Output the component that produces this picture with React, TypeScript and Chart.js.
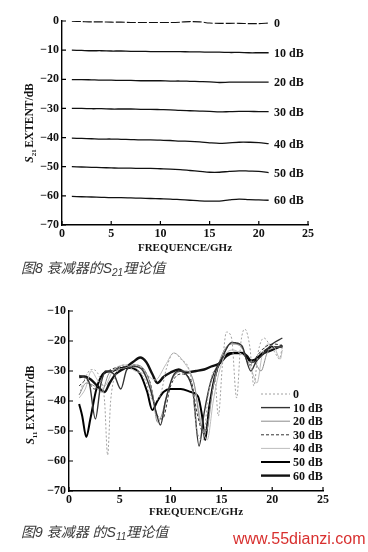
import React, { useEffect, useRef } from 'react';
import { Chart, registerables } from 'chart.js';

Chart.register(...registerables);

// ---------- Fig. 8 : S21 ----------
const s21Freq = [1, 2, 3, 4, 5, 6, 7, 8, 9, 10, 11, 12, 13, 14, 15, 16, 17, 18, 19, 20, 21];
const s21_0 = [-0.1, -0.2, -0.3, -0.3, -0.4, -0.4, -0.5, -0.5, -0.5, -0.5, -0.5, -0.4, -0.2, -0.3, -0.7, -0.8, -0.8, -0.8, -0.9, -0.9, -0.7];
const s21_10 = [-10, -10.1, -10.2, -10.2, -10.3, -10.3, -10.4, -10.4, -10.5, -10.5, -10.5, -10.5, -10.6, -10.6, -10.7, -10.7, -10.8, -10.8, -10.9, -10.9, -10.9];
const s21_20 = [-20.1, -20.1, -20.2, -20.3, -20.3, -20.4, -20.4, -20.5, -20.5, -20.5, -20.6, -20.6, -20.7, -20.8, -20.9, -21.1, -21, -21, -21, -21, -21];
const s21_30 = [-30, -30, -30.1, -30.1, -30.2, -30.2, -30.2, -30.3, -30.3, -30.4, -30.5, -30.7, -30.8, -30.9, -31, -31.2, -31.1, -31, -31, -31.1, -31.1];
const s21_40 = [-40.2, -40.3, -40.4, -40.5, -40.5, -40.6, -40.7, -40.8, -40.8, -40.9, -41, -41.2, -41.3, -41.5, -41.8, -42, -41.8, -41.6, -41.6, -41.7, -42.1];
const s21_50 = [-50, -50.1, -50.2, -50.3, -50.4, -50.5, -50.5, -50.6, -50.6, -50.7, -50.8, -51, -51.3, -51.6, -51.9, -51.9, -51.6, -51.4, -51.5, -51.6, -52];
const s21_60 = [-60.2, -60.3, -60.4, -60.5, -60.6, -60.6, -60.7, -60.8, -60.9, -61, -61.1, -61.3, -61.5, -61.7, -61.8, -61.8, -61.4, -61.1, -61.3, -61.4, -61.5];
const s21Series = [s21_0, s21_10, s21_20, s21_30, s21_40, s21_50, s21_60];
const s21Labels = ['0', '10 dB', '20 dB', '30 dB', '40 dB', '50 dB', '60 dB'];
const s21YMin = -70;
const s21YMax = 0;

// ---------- Fig. 9 : S11 ----------
const s11_0 = [[1, -38], [1.5, -33], [2.2, -29.5], [3, -32], [3.5, -40], [3.8, -58], [4.1, -40], [4.8, -30], [5.5, -28], [6.5, -29], [7.5, -33], [8.3, -40], [9, -38], [9.6, -29], [10.3, -24], [11, -26], [12, -32], [12.6, -50], [13.2, -53], [13.7, -38], [14.3, -30], [14.7, -45], [15.1, -28], [15.5, -17], [16, -19], [16.5, -39], [16.9, -21], [17.3, -16], [17.8, -22], [18.2, -35], [18.6, -24], [19.2, -19], [19.7, -21], [20.3, -24], [20.7, -26], [21, -22]];
const s11_10 = [[1, -31.5], [1.5, -32], [2, -34], [2.6, -46], [3.1, -35], [3.6, -30], [4.4, -31], [5.1, -36], [5.7, -29.5], [6.5, -28.5], [7.3, -30], [8, -36], [8.6, -44], [9, -48], [9.5, -40], [10.2, -32], [10.8, -30], [11.5, -31], [12.2, -37], [12.8, -55], [13.3, -44], [14, -33], [15, -26], [16, -20.5], [17, -21.5], [17.9, -30], [18.4, -27], [19.2, -24], [20, -21], [21, -19]];
const s11_20 = [[1, -38], [1.7, -34], [2.5, -35], [3.2, -37], [3.9, -31], [4.6, -29.5], [5.5, -29], [6.5, -28], [7.5, -30], [8.2, -37], [8.7, -47], [9.1, -45], [9.7, -37], [10.5, -31], [11.5, -30], [12.3, -34], [12.9, -47], [13.5, -50], [14.2, -35], [15, -25], [16, -21], [17, -22], [17.6, -27], [18.2, -27], [18.9, -30], [19.5, -24], [20.2, -22], [21, -22]];
const s11_30 = [[1, -35], [1.7, -33], [2.5, -36], [3.5, -31], [4.5, -29], [5.5, -28.5], [6.5, -28], [7.2, -29], [8, -34], [8.6, -44], [9.2, -46], [10, -35], [11, -31], [12, -33], [12.6, -44], [13.3, -51], [14, -38], [15, -26], [16.2, -20.5], [16.8, -21], [17.8, -28], [18.5, -25], [19.3, -22], [20.2, -21], [21, -21.5]];
const s11_40 = [[1, -39], [1.6, -36], [2.2, -30], [2.8, -33], [3.5, -35], [4.3, -30], [5.5, -28], [6.5, -30], [7.5, -31], [8.5, -33], [9.5, -28], [10.3, -24], [11.3, -27], [12.3, -34], [13, -47], [13.6, -53], [14.2, -40], [14.8, -30], [15.5, -24], [16.2, -23], [16.8, -24], [17.5, -26], [18, -30], [18.5, -34], [19, -25], [19.6, -21], [20.2, -22], [20.8, -26], [21, -23]];
const s11_50 = [[1, -41], [1.3, -45], [1.7, -52], [2.1, -46], [2.7, -36], [3.5, -30.5], [4.3, -30], [5, -29], [6, -29], [7, -31], [7.7, -37], [8.2, -43], [8.7, -40], [9.3, -37], [10, -36], [11, -36], [12, -37], [12.7, -38.5], [13.1, -45], [13.4, -53], [13.8, -42], [14.5, -30], [15.3, -25], [16, -24], [17, -24], [17.8, -26.5], [18.4, -26], [19.2, -23.5], [20, -22], [21, -22]];
const s11_60 = [[1, -32], [1.5, -31.8], [2.2, -33], [2.8, -35], [3.5, -37], [4, -34], [4.6, -31], [5.5, -29], [6.3, -27], [7, -25.5], [7.6, -27], [8.2, -31], [8.7, -34], [9.3, -32], [10, -30.5], [10.8, -29.5], [11.5, -30.5], [12.5, -30], [13.3, -29.5], [14, -28.5], [14.8, -27.5], [15.5, -25], [16.2, -24], [17, -24], [17.5, -25], [18, -27], [18.5, -26], [19.2, -24], [20, -23], [21, -21.5]];
const s11Series = [s11_0, s11_10, s11_20, s11_30, s11_40, s11_50, s11_60];
const s11Labels = ['0', '10 dB', '20 dB', '30 dB', '40 dB', '50 dB', '60 dB'];
const s11YMin = -70;
const s11YMax = -10;

const xMin = 0;
const xMax = 25;
const xStep = 5;
const yStep = 10;
const xTitle = 'FREQUENCE/GHz';

const SERIF = '"Liberation Serif", "Times New Roman", serif';
const INK = '#111';

const s11Styles = [
  { color: '#a0a0a0', width: 1, dash: [2, 2] },
  { color: '#333', width: 1.4, dash: [] },
  { color: '#8c8c8c', width: 1, dash: [] },
  { color: '#333', width: 1, dash: [3, 2] },
  { color: '#bdbdbd', width: 1, dash: [] },
  { color: '#000', width: 2, dash: [] },
  { color: '#111', width: 2.4, dash: [] },
];

const fmt = (v: number) => (v < 0 ? '\u2212' + Math.abs(v) : String(v));

function inwardTicks(len: number) {
  return {
    id: 'inwardTicks',
    afterDraw(chart: any) {
      const { ctx } = chart;
      const xs = chart.scales.x;
      const ys = chart.scales.y;
      const area = chart.chartArea;
      ctx.save();
      ctx.strokeStyle = '#000';
      ctx.lineWidth = 1.2;
      ctx.beginPath();
      xs.ticks.forEach((t: any) => {
        const px = xs.getPixelForValue(t.value);
        ctx.moveTo(px, area.bottom);
        ctx.lineTo(px, area.bottom - len);
      });
      ys.ticks.forEach((t: any) => {
        const py = ys.getPixelForValue(t.value);
        ctx.moveTo(area.left, py);
        ctx.lineTo(area.left + len, py);
      });
      ctx.stroke();
      ctx.restore();
    },
  };
}

function yTitle(cx: number, sub: string) {
  return {
    id: 'yTitle',
    afterDraw(chart: any) {
      const { ctx } = chart;
      const area = chart.chartArea;
      const cy = (area.top + area.bottom) / 2 + (sub === '11' ? 4 : 0);
      const fS = `italic bold 11.5px ${SERIF}`;
      const fSub = `bold 7px ${SERIF}`;
      const fRest = `bold 11.5px ${SERIF}`;
      const rest = 'EXTENT/dB';
      ctx.save();
      ctx.font = fS;
      const wS = ctx.measureText('S').width;
      ctx.font = fSub;
      const wSub = ctx.measureText(sub).width;
      ctx.font = fRest;
      const wRest = ctx.measureText(rest).width;
      const gap = 1.5;
      const total = wS + wSub + gap + wRest;
      ctx.translate(cx, cy);
      ctx.rotate(-Math.PI / 2);
      ctx.fillStyle = INK;
      ctx.textBaseline = 'alphabetic';
      ctx.textAlign = 'left';
      let x = -total / 2;
      const base = 4;
      ctx.font = fS;
      ctx.fillText('S', x, base);
      x += wS;
      ctx.font = fSub;
      ctx.fillText(sub, x, base + 2.5);
      x += wSub + gap;
      ctx.font = fRest;
      ctx.fillText(rest, x, base);
      ctx.restore();
    },
  };
}

function endLabels(labels: string[], lx: number) {
  return {
    id: 'endLabels',
    afterDraw(chart: any) {
      const { ctx } = chart;
      ctx.save();
      ctx.font = `bold 12px ${SERIF}`;
      ctx.fillStyle = INK;
      ctx.textBaseline = 'middle';
      ctx.textAlign = 'left';
      chart.data.datasets.forEach((ds: any, i: number) => {
        const meta = chart.getDatasetMeta(i);
        const last = meta.data[meta.data.length - 1];
        ctx.fillText(labels[i], lx, last.y + 1);
      });
      ctx.restore();
    },
  };
}

function insideLegend(labels: string[], x0: number, x1: number, y0: number, dy: number) {
  return {
    id: 'insideLegend',
    afterDraw(chart: any) {
      const { ctx } = chart;
      ctx.save();
      ctx.font = `bold 12px ${SERIF}`;
      ctx.textBaseline = 'middle';
      ctx.textAlign = 'left';
      chart.data.datasets.forEach((ds: any, i: number) => {
        const y = y0 + i * dy;
        ctx.strokeStyle = ds.borderColor;
        ctx.lineWidth = ds.borderWidth;
        ctx.setLineDash(ds.borderDash || []);
        ctx.beginPath();
        ctx.moveTo(x0, y);
        ctx.lineTo(x1, y);
        ctx.stroke();
        ctx.setLineDash([]);
        ctx.fillStyle = INK;
        ctx.fillText(labels[i], x1 + 3, y + 1);
      });
      ctx.restore();
    },
  };
}

function baseOptions(o: { yMin: number; yMax: number; yWidth: number; xHeight: number; padTop: number; padRight: number; titlePadBottom: number }) {
  const tickFont = { family: SERIF, size: 12, weight: 'bold' as const };
  const titleFont = { family: SERIF, size: 11, weight: 'bold' as const };
  const border = { display: true, color: '#000', width: 1.4 };
  return {
    responsive: false,
    animation: false as const,
    layout: { padding: { left: 0, top: o.padTop, right: o.padRight, bottom: 0 } },
    plugins: { legend: { display: false }, tooltip: { enabled: false } },
    elements: { point: { radius: 0 } },
    scales: {
      x: {
        type: 'linear' as const,
        min: xMin,
        max: xMax,
        border,
        grid: { display: true, drawOnChartArea: false, drawTicks: false },
        ticks: { stepSize: xStep, font: tickFont, color: INK, padding: 2, callback: (v: any) => fmt(Number(v)) },
        title: { display: true, text: xTitle, font: titleFont, color: INK, padding: { top: 0, bottom: o.titlePadBottom } },
        afterFit: (s: any) => { s.height = o.xHeight; },
      },
      y: {
        type: 'linear' as const,
        min: o.yMin,
        max: o.yMax,
        border,
        grid: { display: true, drawOnChartArea: false, drawTicks: false },
        ticks: { stepSize: yStep, font: tickFont, color: INK, padding: 3, callback: (v: any) => fmt(Number(v)) },
        afterFit: (s: any) => { s.width = o.yWidth; },
      },
    },
  };
}

function S21Chart() {
  const ref = useRef<HTMLCanvasElement>(null);
  useEffect(() => {
    if (!ref.current) return;
    const datasets = s21Series.map((vals, i) => ({
      label: s21Labels[i],
      data: vals.map((v, j) => ({ x: s21Freq[j], y: v })),
      borderColor: INK,
      borderWidth: i === 0 ? 1.1 : 1.3,
      borderDash: i === 0 ? [9, 2] : [],
      pointRadius: 0,
      tension: 0.3,
      fill: false,
    }));
    const chart = new Chart(ref.current, {
      type: 'line',
      data: { datasets },
      options: baseOptions({ yMin: s21YMin, yMax: s21YMax, yWidth: 62, xHeight: 37, padTop: 21, padRight: 60, titlePadBottom: 7 }) as any,
      plugins: [inwardTicks(4), yTitle(29, '21'), endLabels(s21Labels, 274)],
    });
    return () => chart.destroy();
  }, []);
  return <canvas ref={ref} width={368} height={262} style={{ position: 'absolute', left: 0, top: 0, width: 368, height: 262 }} />;
}

function S11Chart() {
  const ref = useRef<HTMLCanvasElement>(null);
  useEffect(() => {
    if (!ref.current) return;
    const datasets = s11Series.map((pts, i) => ({
      label: s11Labels[i],
      data: pts.map((p) => ({ x: p[0], y: p[1] })),
      borderColor: s11Styles[i].color,
      borderWidth: s11Styles[i].width,
      borderDash: s11Styles[i].dash,
      pointRadius: 0,
      cubicInterpolationMode: 'monotone' as const,
      fill: false,
    }));
    const chart = new Chart(ref.current, {
      type: 'line',
      data: { datasets },
      options: baseOptions({ yMin: s11YMin, yMax: s11YMax, yWidth: 69, xHeight: 31, padTop: 21, padRight: 45, titlePadBottom: 3 }) as any,
      plugins: [inwardTicks(4), yTitle(30, '11'), insideLegend(s11Labels, 261, 290, 104, 13.6)],
    });
    return () => chart.destroy();
  }, []);
  return <canvas ref={ref} width={368} height={232} style={{ position: 'absolute', left: 0, top: 290, width: 368, height: 232 }} />;
}

const captionStyle: React.CSSProperties = {
  position: 'absolute',
  left: 21,
  fontFamily: '"Liberation Sans", "Noto Sans CJK SC", sans-serif',
  fontStyle: 'italic',
  fontSize: 14,
  lineHeight: '16px',
  color: '#3a3a3a',
  whiteSpace: 'nowrap',
};

export default function App() {
  return (
    <div style={{ position: 'absolute', left: 0, top: 0, width: 368, height: 552, background: '#fff', overflow: 'hidden' }}>
      <S21Chart />
      <div style={{ ...captionStyle, top: 260 }}>
        图8 衰减器的S<sub style={{ fontSize: 10, verticalAlign: -3 }}>21</sub>理论值
      </div>
      <S11Chart />
      <div style={{ ...captionStyle, top: 524 }}>
        图9 衰减器 的S<sub style={{ fontSize: 10, verticalAlign: -3 }}>11</sub>理论值
      </div>
      <div
        style={{
          position: 'absolute',
          left: 233,
          top: 530,
          fontFamily: '"Liberation Sans", Arial, sans-serif',
          fontSize: 16,
          lineHeight: '18px',
          color: '#d8302f',
          whiteSpace: 'nowrap',
        }}
      >
        www.55dianzi.com
      </div>
    </div>
  );
}
